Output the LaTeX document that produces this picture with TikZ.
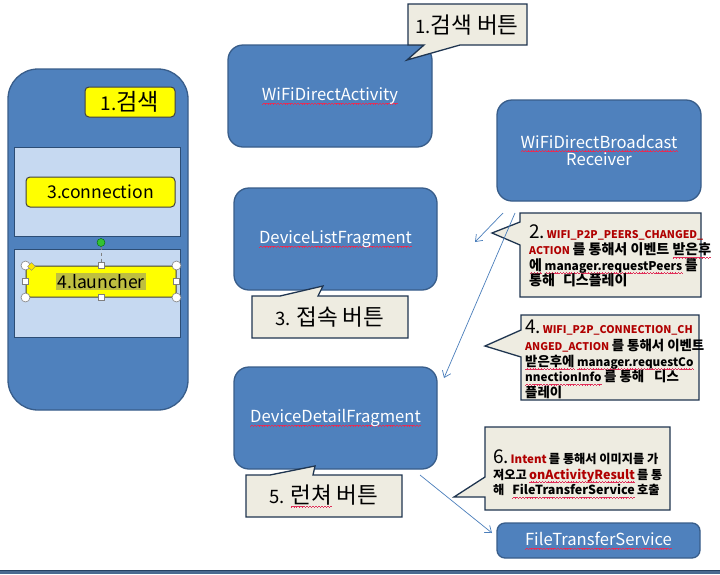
\documentclass[tikz,border=0pt]{standalone}
\usepackage{fontspec}
\setmainfont{Noto Sans CJK KR}
\newfontfamily\kr{Noto Sans CJK KR}[Scale=1.22]
\usetikzlibrary{arrows.meta,shapes.geometric}
\definecolor{bluefill}{HTML}{4F81BD}
\definecolor{blueline}{HTML}{385D8A}
\definecolor{panelfill}{HTML}{C6D9F1}
\definecolor{panelline}{HTML}{2C4D75}
\definecolor{btnfill}{HTML}{FFFF00}
\definecolor{btnline}{HTML}{404040}
\definecolor{callfill}{HTML}{EEECE1}
\definecolor{callline}{HTML}{1F3550}
\definecolor{arrowc}{HTML}{4A7EBB}
\definecolor{redtxt}{HTML}{B00000}
\definecolor{sq}{HTML}{E0305A}
\definecolor{hl}{HTML}{BFBF40}
\definecolor{bottomline}{HTML}{4A6A90}
\newcommand\fs[1]{\fontsize{#1}{#1}\selectfont}
\newcommand\wvseg{\rule[-3.7pt]{0.7pt}{0.55pt}\rule[-3.2pt]{0.7pt}{0.55pt}\rule[-2.7pt]{0.7pt}{0.55pt}\rule[-3.2pt]{0.7pt}{0.55pt}}
\newcommand\wv[1]{\setbox0\hbox{#1}\rlap{\hbox to\wd0{\color{sq}\xleaders\hbox{\wvseg}\hfill}}\box0\relax}
\tikzset{
  bluebox/.style={draw=blueline, line width=1.3pt, fill=bluefill, rounded corners=15pt,
    text=white, font=\fs{16.6}, align=center, inner sep=0pt},
  panel/.style={draw=panelline, line width=0.8pt, fill=panelfill, inner sep=0pt},
  btn/.style={draw=btnline, line width=1pt, fill=btnfill, rounded corners=4pt, font=\fs{17.6}, inner sep=0pt},
  callout/.style={draw=callline, line width=1.3pt, fill=callfill, line join=miter},
  calltext/.style={font=\fs{18.5}, inner sep=0pt},
  line/.style={anchor=base west, inner sep=0pt, font=\fs{11.5}\bfseries},
  conn/.style={draw=arrowc, line width=0.7pt, -{Straight Barb[length=6pt,width=9pt]}},
  handle/.style={draw=gray, fill=white, line width=0.6pt, inner sep=0pt},
}
\begin{document}
\begin{tikzpicture}[x=1pt,y=-1pt]
\useasboundingbox (0,0) rectangle (720,574);
\fill[white] (0,0) rectangle (720,574);
% bottom rule
\fill[bottomline] (0,570) rectangle (720,574);
\draw[blueline!70!black, line width=0.6pt] (0,570) -- (720,570);

% phone
\node[draw=blueline, line width=1.3pt, fill=bluefill, rounded corners=30pt,
  minimum width=180pt, minimum height=341pt, inner sep=0pt] (phone) at (98,239.5) {};
\node[panel, minimum width=166pt, minimum height=89pt] (p1) at (97,191.5) {};
\node[panel, minimum width=166pt, minimum height=88pt] (p2) at (97,293) {};
\node[btn, font=\fs{19}, minimum width=90pt, minimum height=30pt] (b1) at (130,102) {1.{\kr 검색}};
\node[btn, minimum width=149pt, minimum height=30pt] (b3) at (100.5,192) {3.connection};
\node[btn, minimum width=150pt, minimum height=31pt] (b4) at (101,281.5)
  {{\fboxsep=1pt\colorbox{hl}{4.launcher}}};
% selection handles
\node[circle, fill=green!70!black!80, draw=green!40!black, inner sep=0pt, minimum size=8pt] (rot) at ([yshift=23pt]b4.north) {};
\draw[gray, dashed, line width=0.5pt] (rot) -- (b4.north);
\foreach \a in {north west, north east, south west, south east}
  \node[handle, circle, minimum size=9pt] at (b4.\a) {};
\foreach \a in {north, south, west, east}
  \node[handle, rectangle, minimum size=6pt] at (b4.\a) {};
\node[diamond, fill=yellow!90!orange, draw=gray, line width=0.4pt, inner sep=0pt, minimum size=8pt,
  shape aspect=1] (adj) at ([xshift=6pt,yshift=-1pt]b4.north west) {};

% blue boxes
\node[bluebox, minimum width=204pt, minimum height=102pt] (wda) at (330,96) {\wv{WiFiDirectActivity}};
\node[bluebox, minimum width=204pt, minimum height=101pt] (wdbr) at (599,150.5)
  {\wv{WiFiDirectBroadcast}\\[1pt]Receiver};
\node[bluebox, minimum width=203pt, minimum height=102pt] (dlf) at (335.5,239) {\wv{DeviceListFragment}};
\node[bluebox, minimum width=203pt, minimum height=102pt] (ddf) at (335.5,418) {\wv{DeviceDetailFragment}};
\node[bluebox, rounded corners=8pt, minimum width=203pt, minimum height=35pt] (fts) at (598.5,540.5) {\wv{FileTransferService}};

% callout 1
\path[callout] (408,4) -- (527,4) -- (527,45) -- (460,45) -- (407,60) -- (424,45) -- (408,45) -- cycle;
\node[calltext] (c1) at (467,25) {1.{\kr 검색 버튼}};
% callout 3
\path[callout] (252,296) -- (280,296) -- (323,286) -- (318,296) -- (408,296) -- (408,338) -- (252,338) -- cycle;
\node[calltext] (c3) at (330,317) {3. {\kr 접속 버튼}};
% callout 5
\path[callout] (246,475) -- (270,475) -- (315,466) -- (313,475) -- (402,475) -- (402,517) -- (246,517) -- cycle;
\node[calltext] (c5) at (324,496) {5. {\kr\wv{런쳐} 버튼}};

% callout 2
\path[callout] (520,213) -- (701,213) -- (701,297) -- (520,297) -- (520,245) -- (492,233) -- (520,222) -- cycle;
\node[line] (c2a) at (529,238) {{\fs{19}\mdseries 2.}\,{\fs{10.6}\color{redtxt}WIFI\_P2P\_PEERS\_CHANGED\_}};
\node[line] (c2b) at (529,254.5) {{\fs{10.6}\color{redtxt}ACTION} {\kr 를 통해서 이벤트 \wv{받은후}}};
\node[line] (c2c) at (529,270) {{\kr\wv{에}} {\fs{12}\wv{manager.requestPeers}} {\kr 를}};
\node[line] (c2d) at (529,285) {{\kr 통해\hspace{8pt}디스플레이}};

% callout 4
\path[callout] (521,315) -- (699,315) -- (699,400) -- (521,400) -- (521,357) -- (485,346) -- (521,330) -- cycle;
\node[line, font=\fs{11}\bfseries] (c4a) at (525,333) {{\fs{19}\mdseries 4.}\,{\fs{10.6}\color{redtxt}WIFI\_P2P\_CONNECTION\_CH}};
\node[line, font=\fs{11}\bfseries] (c4b) at (525,350) {{\fs{10.6}\color{redtxt}ANGED\_ACTION} {\kr 를 통해서 이벤트}};
\node[line, font=\fs{11}\bfseries] (c4c) at (525,366) {{\kr\wv{받은후에}} {\fs{11.7}\wv{manager.requestCo}}};
\node[line, font=\fs{11}\bfseries] (c4d) at (525,381.5) {{\fs{11.7}\wv{nnectionInfo}} {\kr 를 통해\hspace{10pt}디스}};
\node[line, font=\fs{11}\bfseries] (c4e) at (525,397) {{\kr 플레이}};

% callout 6
\path[callout] (485,427) -- (670,427) -- (670,510) -- (485,510) -- (485,497) -- (454,497) -- (485,477) -- cycle;
\node[line, font=\fs{10}\bfseries] (c6a) at (493,463) {{\fs{19}\mdseries 6.}\,{\fs{11.5}\color{redtxt}Intent} {\kr 를 통해서 이미지를 가}};
\node[line, font=\fs{10}\bfseries] (c6b) at (493,479) {{\kr 져오고} {\fs{12.5}\color{redtxt}\wv{onActivityResult}} {\kr 를 통}};
\node[line, font=\fs{10}\bfseries] (c6c) at (493,494.5) {{\kr 해}\hspace{8pt}{\fs{12.5}\wv{FileTransferService}} {\kr 호출}};

% connectors
\coordinate (a1s) at (503,213);
\coordinate (a1e) at (475,242);
\coordinate (a2s) at (515,213);
\coordinate (a2e) at (444,378);
\coordinate (a3s) at (420,475);
\coordinate (a3e) at (492,533);
\draw[conn] (a1s) -- (a1e);
\draw[conn] (a2s) -- (a2e);
\draw[conn] (a3s) -- (a3e);
\end{tikzpicture}
\end{document}
